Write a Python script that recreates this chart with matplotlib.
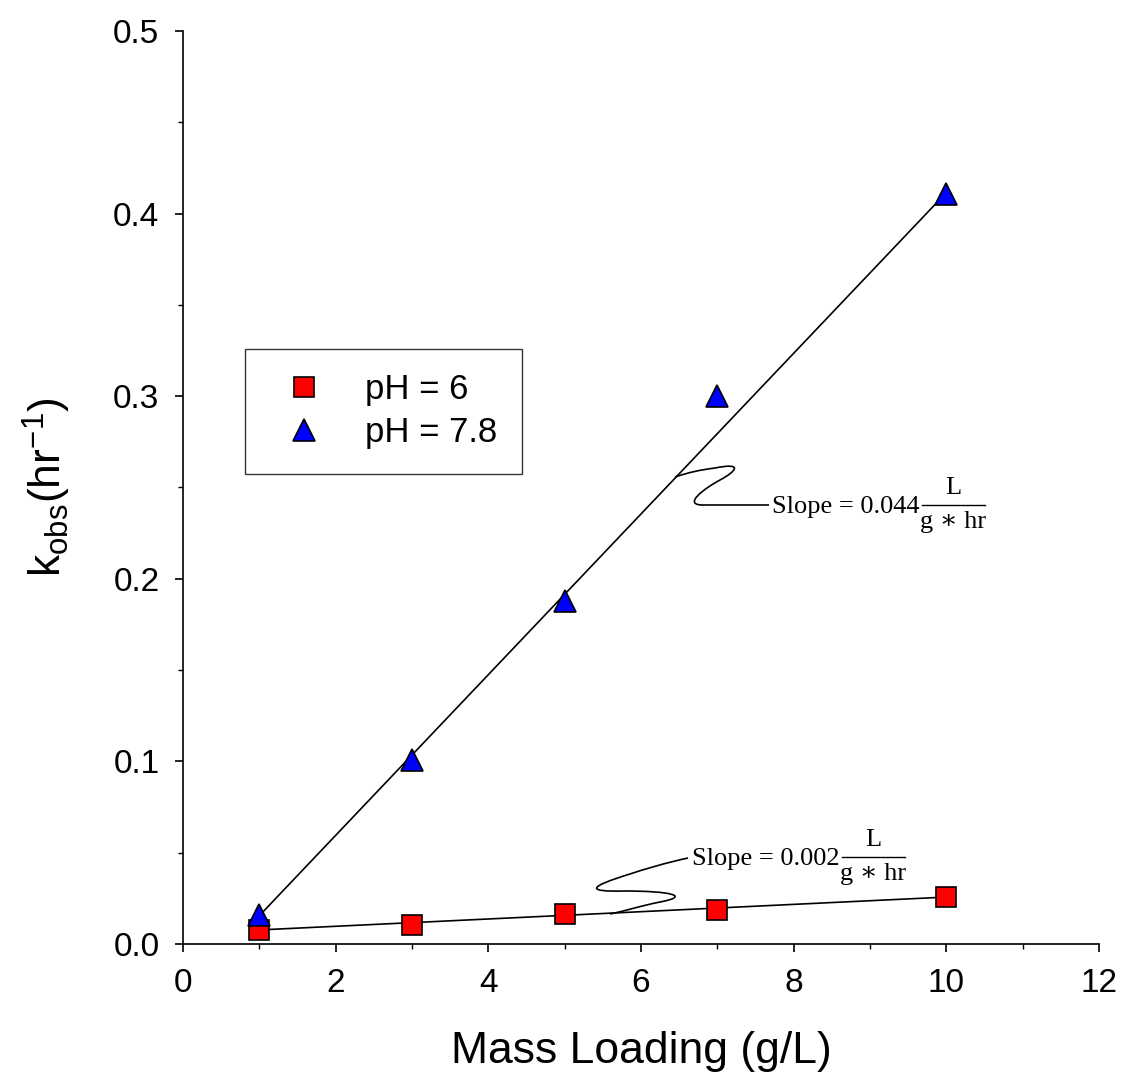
import numpy as np
import matplotlib
matplotlib.use('Agg')
import matplotlib.pyplot as plt
from matplotlib.path import Path
from matplotlib.patches import PathPatch
from matplotlib.ticker import MultipleLocator, FormatStrFormatter

plt.rcParams['font.family'] = ['Liberation Sans', 'DejaVu Sans']
plt.rcParams['mathtext.fontset'] = 'custom'
plt.rcParams['mathtext.rm'] = 'Liberation Sans'
plt.rcParams['mathtext.it'] = 'Liberation Sans:italic'

# data
mass_loading = [1, 3, 5, 7, 10]
k_ph6 = [0.0078, 0.0105, 0.0165, 0.0185, 0.0258]
k_ph78 = [0.016, 0.101, 0.188, 0.300, 0.411]
labels = ["pH = 6", "pH = 7.8"]
# linear fits (slope, intercept)
fit_ph6 = (0.002, 0.0057)
fit_ph78 = (0.044, -0.0285)
slope_labels = ["0.002", "0.044"]

fig = plt.figure(figsize=(11.23, 10.86), dpi=100)
ax = fig.add_axes([183 / 1123, 1 - 944 / 1086, 916 / 1123, 913 / 1086])

xf = np.array([min(mass_loading), max(mass_loading)], dtype=float)
for m, b in (fit_ph6, fit_ph78):
    ax.plot(xf, m * xf + b, color='black', lw=1.2, zorder=2)

ax.plot(mass_loading, k_ph6, 's', ms=14, mfc='#ff0000', mec='black', mew=1.2,
        ls='none', label=labels[0], zorder=3)
ax.plot(mass_loading, k_ph78, '^', ms=16, mfc='#0000ff', mec='black', mew=1.2,
        ls='none', label=labels[1], zorder=4)

ax.set_xlim(0, 12)
ax.set_ylim(0, 0.5)
ax.xaxis.set_major_locator(MultipleLocator(2))
ax.xaxis.set_minor_locator(MultipleLocator(1))
ax.yaxis.set_major_locator(MultipleLocator(0.1))
ax.yaxis.set_minor_locator(MultipleLocator(0.05))
ax.yaxis.set_major_formatter(FormatStrFormatter('%.1f'))
ax.tick_params(which='major', direction='out', length=6, width=1.2, labelsize=24, pad=11)
ax.tick_params(which='minor', direction='out', length=3.5, width=1.0)
for s in ('top', 'right'):
    ax.spines[s].set_visible(False)
for s in ('left', 'bottom'):
    ax.spines[s].set_linewidth(1.2)

ax.set_xlabel("Mass Loading (g/L)", fontsize=32, labelpad=23)
ax.set_ylabel(r"k$_{\mathrm{obs}}$(hr$^{-1}$)", fontsize=32, labelpad=29)

leg = ax.legend(loc='upper left', bbox_to_anchor=(0.068, 0.652), fontsize=25,
                frameon=True, fancybox=False, edgecolor='black', borderpad=0.7,
                handletextpad=0.8, labelspacing=0.3, borderaxespad=0,
                handlelength=1.96)
leg.get_frame().set_linewidth(1.0)


def px(xp, yp):
    return (xp - 183) / 916 * 12, (944 - yp) / 913 * 0.5


# S-shaped leader lines
C4 = Path.CURVE4
codes = [Path.MOVETO] + [C4] * 12
top_pts = [(675, 477),
           (690, 472), (700, 470), (715, 468),
           (745, 462), (735, 472), (720, 480),
           (705, 488), (680, 506), (705, 505),
           (730, 505), (750, 505), (769, 505)]
bot_pts = [(688, 858),
           (665, 863), (645, 869), (630, 874),
           (588, 887), (585, 892), (625, 891),
           (670, 891), (692, 896), (660, 902),
           (640, 906), (625, 911), (610, 914)]
for pts in (top_pts, bot_pts):
    ax.add_patch(PathPatch(Path([px(*p) for p in pts], codes),
                           fc='none', ec='black', lw=1.2, zorder=2))

serif = ['Liberation Serif', 'DejaVu Serif']
# (text left, y centre, fraction bar left, bar right)
slope_pos = [(692, 857, 842, 905), (772, 505, 922, 985)]
for val, (xl, yc, b0, b1) in zip(slope_labels, slope_pos):
    tx, ty = px(xl, yc)
    ax.text(tx, ty, "Slope = " + val, fontsize=19, family=serif,
            ha='left', va='center_baseline')
    bx0, by = px(b0, yc)
    bx1, _ = px(b1, yc)
    ax.plot([bx0, bx1], [by, by], color='black', lw=1.0)
    cx, _ = px((b0 + b1) / 2, yc)
    ax.text(cx, px(0, yc - 6)[1], "L", fontsize=19, family=serif,
            ha='center', va='bottom')
    ax.text(cx, px(0, yc + 6)[1], "g \u2217 hr", fontsize=19, family=serif,
            ha='center', va='top')

fig.savefig("out.png", dpi=100)
